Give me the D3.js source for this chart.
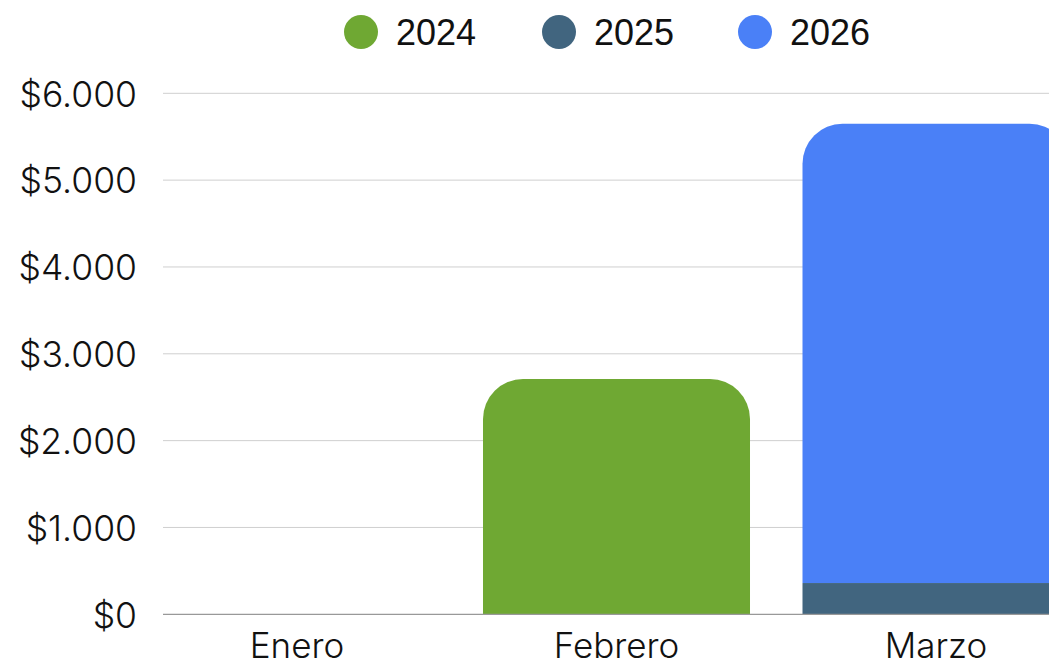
<!DOCTYPE html>
<html><head><meta charset="utf-8">
<script src="https://cdn.jsdelivr.net/npm/d3@7"></script>
<style>
html,body{margin:0;padding:0;background:#fff;overflow:hidden;}
svg{display:block;}
</style></head>
<body>
<svg id="c" width="1049" height="659"></svg>
<script>
const categories = ["Enero", "Febrero", "Marzo"];
const seriesNames = ["2024", "2025", "2026"];
const values2024 = [0, 2710, 0];
const values2025 = [0, 0, 360];
const values2026 = [0, 0, 5290];
const yTicks = [0, 1000, 2000, 3000, 4000, 5000, 6000];
const colors = ["#6fa833", "#41657f", "#4a80f7"];

const svg = d3.select("#c");
const plotLeft = 163, plotRight = 1049;
const y = d3.scaleLinear().domain([0, 6000]).range([614.3, 93.3]);
const x = d3.scaleBand().domain(categories).range([111, 1122]).padding(0.1643);

const fmt = v => "$" + d3.format(",")(v).replace(/,/g, ".");
const axisFont = "Inter, 'Open Sans', sans-serif";

// gridlines
const grid = svg.append("g");
grid.selectAll("line").data(yTicks.filter(t => t > 0)).join("line")
  .attr("x1", plotLeft).attr("x2", plotRight)
  .attr("y1", d => y(d)).attr("y2", d => y(d))
  .attr("stroke", "#cfcfcf").attr("stroke-width", 1);

// y axis labels
const yAxis = svg.append("g").attr("transform", "translate(137,0)")
  .call(d3.axisLeft(y).tickValues(yTicks).tickFormat(fmt).tickSize(0).tickPadding(0));
yAxis.select(".domain").remove();
yAxis.selectAll("text").attr("font-family", axisFont).attr("font-size", 35.5)
  .attr("font-weight", 300).attr("fill", "#111").attr("dy", "0.36em");

// stacked data
const rows = categories.map((c, i) => ({cat: c, "2024": values2024[i], "2025": values2025[i], "2026": values2026[i]}));
const stack = d3.stack().keys(seriesNames)(rows);

function roundedTopArc(x0, y0, w, h, r) {
  r = Math.min(r, w / 2, h);
  return `M${x0},${y0 + h}V${y0 + r}A${r},${r} 0 0 1 ${x0 + r},${y0}H${x0 + w - r}A${r},${r} 0 0 1 ${x0 + w},${y0 + r}V${y0 + h}Z`;
}

const bars = svg.append("g");
stack.forEach((layer, si) => {
  layer.forEach((d, ci) => {
    if (d[1] - d[0] <= 0) return;
    const topIdx = d3.max(stack.map((l, k) => (l[ci][1] - l[ci][0] > 0 ? k : -1)));
    const x0 = x(categories[ci]), w = x.bandwidth();
    const yTop = y(d[1]), yBot = y(d[0]);
    if (si === topIdx) {
      bars.append("path").attr("d", roundedTopArc(x0, yTop, w, yBot - yTop, 40)).attr("fill", colors[si]);
    } else {
      bars.append("rect").attr("x", x0).attr("y", yTop).attr("width", w).attr("height", yBot - yTop).attr("fill", colors[si]);
    }
  });
});

// baseline
svg.append("line").attr("x1", plotLeft).attr("x2", plotRight)
  .attr("y1", y(0)).attr("y2", y(0)).attr("stroke", "#999").attr("stroke-width", 1.3);

// x axis labels
const xAxis = svg.append("g").attr("transform", `translate(0,${y(0)})`)
  .call(d3.axisBottom(x).tickSize(0).tickPadding(0));
xAxis.select(".domain").remove();
xAxis.selectAll("text").attr("font-family", axisFont).attr("font-size", 35)
  .attr("font-weight", 300).attr("fill", "#111").attr("y", 44).attr("dy", 0);

// legend
const legendX = [361, 559, 755];
const lg = svg.append("g");
seriesNames.forEach((s, i) => {
  lg.append("circle").attr("cx", legendX[i]).attr("cy", 32).attr("r", 17).attr("fill", colors[i]);
  lg.append("text").attr("x", legendX[i] + 35).attr("y", 45)
    .attr("font-family", "'Liberation Sans', Arial, sans-serif").attr("font-size", 36)
    .attr("fill", "#111").text(s);
});
</script>
</body></html>
